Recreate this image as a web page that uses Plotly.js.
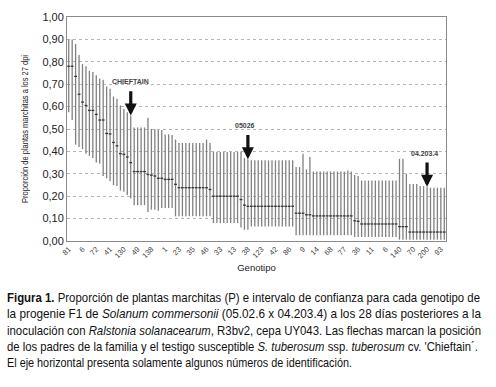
<!DOCTYPE html>
<html>
<head>
<meta charset="utf-8">
<script src="https://cdn.plot.ly/plotly-3.0.1.min.js"></script>
<style>
  html, body { margin: 0; padding: 0; background: #fff; }
  #wrap { position: relative; width: 496px; height: 387px; overflow: hidden; }
  #chart { position: absolute; left: 0; top: 0; width: 496px; height: 387px; }
  #cap { position: absolute; left: 7px; top: 290px; font-family: 'Liberation Sans', Arial, sans-serif; font-size: 13px; line-height: 16.3px; color: #111; white-space: nowrap; }
  #cap .ln { display: block; width: max-content; transform-origin: 0 50%; }
</style>
</head>
<body>
<div id="wrap">
  <div id="chart"></div>
  <div id="cap">
    <span class="ln" data-w="473"><b>Figura 1.</b> Proporción de plantas marchitas (P) e intervalo de confianza para cada genotipo de</span>
    <span class="ln" data-w="474">la progenie F1 de <i>Solanum commersonii</i> (05.02.6 x 04.203.4) a los 28 días posteriores a la</span>
    <span class="ln" data-w="474">inoculación con <i>Ralstonia solanacearum</i>, R3bv2, cepa UY043. Las flechas marcan la posición</span>
    <span class="ln" data-w="471">de los padres de la familia y el testigo susceptible <i>S. tuberosum</i> ssp. <i>tuberosum</i> cv. 'Chieftain´.</span>
    <span class="ln" data-w="345">El eje horizontal presenta solamente algunos números de identificación.</span>
  </div>
</div>
<script>
// ---- Data ----
// Proportion of wilted plants (P) per genotype, ordered as in the figure
const pValues = [
  0.78, 0.78, 0.735, 0.655, 0.62, 0.605, 0.583, 0.583, 0.565, 0.54,
  0.54, 0.48, 0.478, 0.44, 0.425, 0.39, 0.387, 0.375, 0.35, 0.31,
  0.31, 0.31, 0.31, 0.297, 0.294, 0.29, 0.28, 0.28, 0.275, 0.275,
  0.275, 0.253, 0.238, 0.238, 0.238, 0.238, 0.238, 0.238, 0.238, 0.238,
  0.238, 0.23, 0.20, 0.20, 0.20, 0.20, 0.20, 0.20, 0.20, 0.20,
  0.185, 0.16, 0.155, 0.155, 0.155, 0.155, 0.155, 0.155, 0.155, 0.155,
  0.155, 0.155, 0.155, 0.155, 0.155, 0.155, 0.124, 0.124, 0.124, 0.117,
  0.117, 0.112, 0.112, 0.112, 0.112, 0.112, 0.112, 0.112, 0.112, 0.112,
  0.112, 0.112, 0.112, 0.09, 0.088, 0.076, 0.076, 0.076, 0.076, 0.076,
  0.076, 0.076, 0.076, 0.076, 0.076, 0.076, 0.064, 0.064, 0.064, 0.04,
  0.04, 0.04, 0.04, 0.04, 0.04, 0.04, 0.04, 0.04, 0.04, 0.04
];
// Upper confidence limit
const upperValues = [
  0.90, 0.90, 0.88, 0.83, 0.79, 0.78, 0.76, 0.755, 0.74, 0.725,
  0.72, 0.69, 0.68, 0.645, 0.635, 0.605, 0.59, 0.575, 0.56, 0.507,
  0.507, 0.507, 0.507, 0.55, 0.50, 0.50, 0.495, 0.495, 0.476, 0.476,
  0.473, 0.453, 0.438, 0.438, 0.438, 0.438, 0.438, 0.438, 0.438, 0.438,
  0.453, 0.438, 0.397, 0.397, 0.397, 0.397, 0.397, 0.397, 0.397, 0.397,
  0.40, 0.37, 0.365, 0.36, 0.36, 0.36, 0.36, 0.36, 0.36, 0.36,
  0.36, 0.36, 0.36, 0.36, 0.36, 0.36, 0.33, 0.33, 0.39, 0.32,
  0.375, 0.31, 0.31, 0.31, 0.31, 0.31, 0.31, 0.31, 0.31, 0.31,
  0.31, 0.315, 0.31, 0.295, 0.29, 0.27, 0.27, 0.27, 0.27, 0.27,
  0.27, 0.27, 0.27, 0.27, 0.27, 0.27, 0.367, 0.367, 0.30, 0.255,
  0.255, 0.255, 0.245, 0.245, 0.242, 0.238, 0.238, 0.238, 0.238, 0.238
];
// Lower confidence limit
const lowerValues = [
  0.575, 0.54, 0.43, 0.42, 0.41, 0.39, 0.38, 0.37, 0.35, 0.345,
  0.29, 0.28, 0.267, 0.25, 0.245, 0.225, 0.22, 0.205, 0.19, 0.16,
  0.16, 0.16, 0.16, 0.13, 0.14, 0.14, 0.135, 0.147, 0.147, 0.147,
  0.147, 0.11, 0.11, 0.11, 0.11, 0.11, 0.11, 0.11, 0.11, 0.11,
  0.11, 0.11, 0.08, 0.08, 0.08, 0.08, 0.08, 0.08, 0.08, 0.08,
  0.06, 0.05, 0.05, 0.065, 0.065, 0.065, 0.065, 0.065, 0.065, 0.065,
  0.065, 0.065, 0.065, 0.065, 0.065, 0.065, 0.026, 0.026, 0.026, 0.026,
  0.026, 0.026, 0.026, 0.026, 0.026, 0.026, 0.026, 0.026, 0.026, 0.026,
  0.026, 0.026, 0.026, 0.018, 0.018, 0.018, 0.018, 0.018, 0.018, 0.018,
  0.018, 0.018, 0.018, 0.018, 0.018, 0.018, 0.006, 0.006, 0.006, 0.006,
  0.006, 0.006, 0.006, 0.006, 0.006, 0.006, 0.006, 0.006, 0.006, 0.006
];
// Genotype identification numbers shown on the horizontal axis (every 4th genotype)
const tickLabels = ['81','6','72','41','130','49','138','1','23','35','46','33','13','38',
                    '123','42','86','9','14','68','77','36','11','6','140','70','200','93'];
const tickEvery = 4;
// Parents and susceptible control marked with arrows (label, genotype position)
const markedLabels = ['CHIEFTAIN', '05026', '04.203.4'];
const markedIndex = [18, 52, 104];

// ---- Build traces ----
const xIdx = pValues.map((_, i) => i);
const tickVals = tickLabels.map((_, k) => k * tickEvery);

const trace = {
  type: 'scatter',
  mode: 'markers',
  x: xIdx,
  y: pValues,
  marker: { symbol: 'line-ew-open', size: 2, line: { width: 1.3, color: '#333' }, color: '#333' },
  error_y: {
    type: 'data',
    symmetric: false,
    array: upperValues.map((u, i) => u - pValues[i]),
    arrayminus: lowerValues.map((l, i) => pValues[i] - l),
    color: '#808080',
    thickness: 1.3,
    width: 0
  },
  hoverinfo: 'skip',
  showlegend: false
};

const arrowLen = 0.115, labelGap = 0.035;
const annotations = [];
markedLabels.forEach((lab, k) => {
  const i = markedIndex[k];
  const tip = upperValues[i];
  const tail = tip + arrowLen;
  annotations.push({
    x: i, y: tip, xref: 'x', yref: 'y',
    ax: i, ay: tail, axref: 'x', ayref: 'y',
    text: '', showarrow: true, arrowhead: 2, arrowsize: 0.75, arrowwidth: 3.2, arrowcolor: '#111'
  });
  annotations.push({
    x: i, y: tail + labelGap, xref: 'x', yref: 'y',
    text: '<b>' + lab + '</b>', showarrow: false,
    xshift: k === 0 ? 0 : -3,
    font: { family: 'Liberation Sans, Arial, sans-serif', size: 7, color: '#444' }
  });
});

const layout = {
  width: 496, height: 387,
  margin: { l: 67, r: 50, t: 17, b: 146, pad: 0 },
  paper_bgcolor: '#fff', plot_bgcolor: '#fff',
  separators: ',.',
  font: { family: 'Liberation Sans, Arial, sans-serif', color: '#222' },
  xaxis: {
    range: [-0.5, pValues.length - 0.5],
    tickmode: 'array', tickvals: tickVals, ticktext: tickLabels,
    tickangle: -45, tickfont: { size: 7.5, color: '#444' },
    ticks: '', showgrid: false, zeroline: false,
    showline: true, linecolor: '#8a8a8a', linewidth: 1, mirror: true,
    title: { text: 'Genotipo', font: { size: 9.5, color: '#222' }, standoff: 5 },
    automargin: false
  },
  yaxis: {
    range: [0, 1], dtick: 0.1, tick0: 0, tickformat: '.2f',
    tickfont: { size: 11, color: '#222' },
    ticks: '', showgrid: true, gridcolor: '#b5b5b5', griddash: 'dot', gridwidth: 1,
    zeroline: false, showline: true, linecolor: '#8a8a8a', linewidth: 1, mirror: true,
    title: { text: 'Proporción de plantas marchitas a los 27 dpi', font: { size: 9, color: '#222' }, standoff: 12 },
    automargin: false
  },
  annotations: annotations
};

Plotly.newPlot('chart', [trace], layout, { displayModeBar: false, staticPlot: true }).then(gd => {
  // condensed look of the vertical axis title, as in the reference
  const yt = gd.querySelector('.g-ytitle text');
  if (yt) { yt.setAttribute('textLength', '148'); yt.setAttribute('lengthAdjust', 'spacingAndGlyphs'); }
});

// Fit each caption line to the width it has in the reference (condensed type)
document.querySelectorAll('#cap .ln').forEach(el => {
  const target = parseFloat(el.getAttribute('data-w'));
  const w = el.getBoundingClientRect().width;
  if (w > 0) el.style.transform = 'scaleX(' + (target / w).toFixed(4) + ')';
});
</script>
</body>
</html>
